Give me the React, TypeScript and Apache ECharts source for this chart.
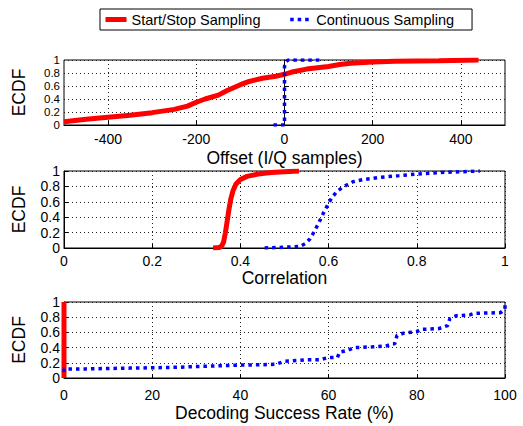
import React, { useEffect, useRef } from "react";
import * as echarts from "echarts";

const SERIES_SS = "Start/Stop Sampling";
const SERIES_CS = "Continuous Sampling";

// Panel 1: Offset (I/Q samples)
const offsetSSx = [-500, -450, -400, -350, -300, -250, -220, -200, -180, -150, -130, -100, -80, -50, -20, 0, 20, 50, 75, 100, 125, 150, 200, 250, 300, 350, 440];
const offsetSSy = [0.05, 0.09, 0.12, 0.15, 0.19, 0.24, 0.29, 0.35, 0.4, 0.46, 0.53, 0.62, 0.67, 0.72, 0.75, 0.78, 0.82, 0.86, 0.88, 0.9, 0.93, 0.95, 0.97, 0.98, 0.985, 0.99, 1.0];
const offsetCSx = [-25, -3, 0, 0, 0, 3, 8, 85];
const offsetCSy = [0, 0, 0, 0.5, 0.9, 0.97, 1.0, 1.0];

// Panel 2: Correlation
const corrSSx = [0.338, 0.352, 0.358, 0.362, 0.366, 0.37, 0.374, 0.378, 0.383, 0.39, 0.4, 0.415, 0.44, 0.47, 0.5, 0.533];
const corrSSy = [0, 0.005, 0.03, 0.08, 0.2, 0.35, 0.5, 0.63, 0.74, 0.83, 0.89, 0.93, 0.96, 0.98, 0.99, 1.0];
const corrCSx = [0.455, 0.5, 0.535, 0.548, 0.558, 0.568, 0.578, 0.588, 0.598, 0.608, 0.62, 0.635, 0.655, 0.68, 0.72, 0.76, 0.8, 0.85, 0.9, 0.943];
const corrCSy = [0, 0.01, 0.02, 0.06, 0.12, 0.22, 0.33, 0.45, 0.56, 0.66, 0.74, 0.8, 0.86, 0.89, 0.92, 0.94, 0.96, 0.98, 0.99, 1.0];

// Panel 3: Decoding Success Rate (%)
const decSSx = [0, 0];
const decSSy = [0, 1];
const decCSx = [0, 0, 5, 10, 15, 20, 25, 30, 35, 40, 45, 48, 50, 53, 55, 58, 60, 62, 62.5, 64, 66, 70, 73, 74.5, 75, 75.5, 77, 80, 81, 85, 87, 87.5, 89, 92, 93, 99, 100, 100];
const decCSy = [0.08, 0.12, 0.12, 0.125, 0.13, 0.135, 0.14, 0.15, 0.16, 0.17, 0.175, 0.18, 0.22, 0.23, 0.24, 0.24, 0.27, 0.27, 0.34, 0.36, 0.4, 0.41, 0.42, 0.45, 0.45, 0.56, 0.59, 0.61, 0.64, 0.65, 0.69, 0.78, 0.82, 0.83, 0.85, 0.86, 0.91, 1.0];

const offsetTicks = [-400, -200, 0, 200, 400];
const ecdfTicksEven = [0, 0.4, 0.8];
const ecdfTicksOdd = [0.2, 0.6, 1];
const yTickLabels = ["0", "0.2", "0.4", "0.6", "0.8", "1"];

const FONT = "Liberation Sans, Arial, Helvetica, sans-serif";
const RED = "#ff0000";
const BLUE = "#0000ff";

const zip = (xs: number[], ys: number[]) => xs.map((x, i) => [x, ys[i]]);

export default function App() {
  const ref = useRef<HTMLDivElement>(null);
  useEffect(() => {
    const chart = echarts.init(ref.current!, null, { renderer: "svg" });
    const grids = [
      { left: 64, top: 60, width: 441, height: 65 },
      { left: 64, top: 171, width: 441, height: 77 },
      { left: 64, top: 302, width: 441, height: 76 },
    ];
    const gridLine = { show: true, lineStyle: { color: "#222", type: [1, 3] as any, width: 1 } };
    const axisLine = { show: true, lineStyle: { color: "#000", width: 1 } };
    const tick = { show: true, inside: true, length: 4, lineStyle: { color: "#000" } };
    const tickLabel = { color: "#000", fontSize: 14, fontFamily: FONT };
    const topYLabel = { ...tickLabel, fontSize: 11.5, lineHeight: 11 };
    const nameStyle = { color: "#000", fontSize: 17.5, fontFamily: FONT };
    const fmtY = (v: number) => yTickLabels[Math.round(v / 0.2)] ?? String(v);

    const xNames = ["Offset (I/Q samples)", "Correlation", "Decoding Success Rate (%)"];
    const nameGaps = [24, 20, 26];
    const labelMargins = [7, 6, 10];
    const xAxes: any[] = [
      {
        type: "value", gridIndex: 0, min: -500, max: 500,
        axisLabel: { ...tickLabel, margin: labelMargins[0], customValues: offsetTicks },
        axisTick: { ...tick, customValues: offsetTicks },
      },
      { type: "value", gridIndex: 1, min: 0, max: 1, interval: 0.2, axisLabel: { ...tickLabel, margin: labelMargins[1] }, axisTick: tick },
      { type: "value", gridIndex: 2, min: 0, max: 100, interval: 20, axisLabel: { ...tickLabel, margin: labelMargins[2] }, axisTick: tick },
    ].map((a, i) => ({
      ...a,
      name: xNames[i],
      nameLocation: "middle",
      nameGap: nameGaps[i],
      nameTextStyle: nameStyle,
      axisLine,
      splitLine: gridLine,
      axisLabel: { ...a.axisLabel, showMinLabel: true, showMaxLabel: true },
    }));

    const yAxes: any[] = [0, 1, 2].map((i) => ({
      type: "value",
      gridIndex: i,
      min: 0,
      max: 1,
      interval: 0.2,
      name: "ECDF",
      nameLocation: "middle",
      nameRotate: 90,
      nameGap: 36,
      nameTextStyle: nameStyle,
      axisLine,
      axisTick: tick,
      splitLine: gridLine,
      axisLabel: i === 0
        ? { ...topYLabel, margin: 4, showMinLabel: true, showMaxLabel: true, customValues: ecdfTicksEven, formatter: fmtY }
        : { ...tickLabel, margin: 4, showMinLabel: true, showMaxLabel: true, formatter: fmtY },
    }));
    // second label-only axis for the tightly spaced top panel
    yAxes.push({
      type: "value",
      gridIndex: 0,
      position: "left",
      min: 0,
      max: 1,
      interval: 0.2,
      axisLine: { show: false },
      axisTick: { show: false },
      splitLine: { show: false },
      axisLabel: { ...topYLabel, margin: 4, showMinLabel: true, showMaxLabel: true, customValues: ecdfTicksOdd, formatter: fmtY },
    });

    const ssStyle = { color: RED, width: 5, type: "solid" as any, cap: "butt" as any };
    const csStyle = { color: BLUE, width: 3.5, type: [3.5, 4] as any, cap: "butt" as any };
    const mk = (name: string, idx: number, data: number[][], style: any, clip = true) => ({
      type: "line",
      name,
      xAxisIndex: idx,
      yAxisIndex: idx,
      data,
      symbol: "none",
      showSymbol: false,
      clip,
      color: style.color,
      lineStyle: style,
      z: name === SERIES_CS ? 3 : 2,
    });

    chart.setOption({
      animation: false,
      backgroundColor: "#fff",
      textStyle: { fontFamily: FONT },
      legend: {
        left: 100,
        top: 9,
        data: [
          { name: SERIES_SS, lineStyle: { width: 5 } },
          { name: SERIES_CS, lineStyle: { width: 3.5 } },
        ],
        itemWidth: 21,
        itemHeight: 10,
        itemGap: 28,
        padding: [3, 18, 3, 3],
        borderColor: "#000",
        borderWidth: 1,
        backgroundColor: "#fff",
        itemStyle: { opacity: 0 },
        textStyle: { color: "#000", fontSize: 14.5, fontFamily: FONT },
      },
      grid: grids.map((g) => ({ ...g, show: true, borderColor: "#000", borderWidth: 1, backgroundColor: "transparent" })),
      xAxis: xAxes,
      yAxis: yAxes,
      series: [
        mk(SERIES_SS, 0, zip(offsetSSx, offsetSSy), ssStyle),
        mk(SERIES_CS, 0, zip(offsetCSx, offsetCSy), csStyle),
        mk(SERIES_SS, 1, zip(corrSSx, corrSSy), ssStyle),
        mk(SERIES_CS, 1, zip(corrCSx, corrCSy), csStyle),
        mk(SERIES_SS, 2, zip(decSSx, decSSy), ssStyle, false),
        mk(SERIES_CS, 2, zip(decCSx, decCSy), csStyle, false),
      ],
    });
    return () => chart.dispose();
  }, []);
  return <div ref={ref} style={{ position: "fixed", left: 0, top: 0, width: 523, height: 426 }} />;
}
